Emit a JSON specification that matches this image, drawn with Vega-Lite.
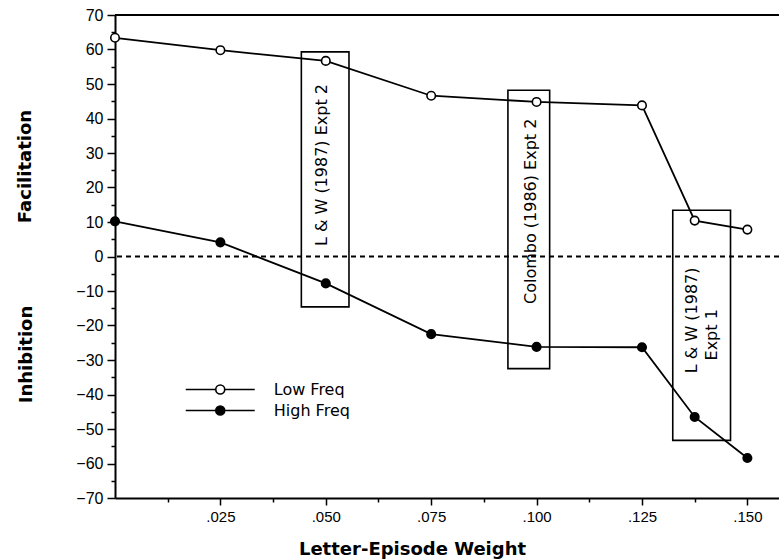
{
  "$schema": "https://vega.github.io/schema/vega-lite/v6.json",
  "width": 664,
  "height": 483,
  "autosize": {"type": "none"},
  "padding": {"left": 115, "top": 15, "right": 0, "bottom": 62},
  "background": "white",
  "config": {"view": {"stroke": null}, "font": "Liberation Sans"},
  "datasets": {
    "series": [
      {"w": 0.0, "value": 63.4, "freq": "Low Freq"},
      {"w": 0.025, "value": 59.8, "freq": "Low Freq"},
      {"w": 0.05, "value": 56.7, "freq": "Low Freq"},
      {"w": 0.075, "value": 46.6, "freq": "Low Freq"},
      {"w": 0.1, "value": 44.8, "freq": "Low Freq"},
      {"w": 0.125, "value": 43.8, "freq": "Low Freq"},
      {"w": 0.1375, "value": 10.4, "freq": "Low Freq"},
      {"w": 0.15, "value": 7.8, "freq": "Low Freq"},
      {"w": 0.0, "value": 10.2, "freq": "High Freq"},
      {"w": 0.025, "value": 4.1, "freq": "High Freq"},
      {"w": 0.05, "value": -7.8, "freq": "High Freq"},
      {"w": 0.075, "value": -22.5, "freq": "High Freq"},
      {"w": 0.1, "value": -26.2, "freq": "High Freq"},
      {"w": 0.125, "value": -26.3, "freq": "High Freq"},
      {"w": 0.1375, "value": -46.5, "freq": "High Freq"},
      {"w": 0.15, "value": -58.4, "freq": "High Freq"}
    ],
    "boxes": [
      {"x1": 0.0442, "x2": 0.0555, "top": 59.3, "bottom": -14.6},
      {"x1": 0.0932, "x2": 0.1031, "top": 48.2, "bottom": -32.5},
      {"x1": 0.1323, "x2": 0.146, "top": 13.4, "bottom": -53.3}
    ],
    "labels": [
      {"w": 0.0492, "value": 26.5, "label": "L & W (1987) Expt 2"},
      {"w": 0.0987, "value": 13.1, "label": "Colombo (1986) Expt 2"},
      {"w": 0.1369, "value": -18.5, "label": "L & W (1987)"},
      {"w": 0.1417, "value": -22.7, "label": "Expt 1"}
    ]
  },
  "resolve": {"axis": {"x": "independent", "y": "independent"}},
  "layer": [
    {
      "data": {"name": "boxes"},
      "mark": {"type": "rect", "filled": false, "stroke": "black", "strokeWidth": 1.6},
      "encoding": {
        "x": {"field": "x1", "type": "quantitative", "axis": null},
        "x2": {"field": "x2"},
        "y": {"field": "top", "type": "quantitative", "axis": null},
        "y2": {"field": "bottom"}
      }
    },
    {
      "data": {"values": [{}]},
      "mark": {"type": "rule", "color": "black", "strokeWidth": 2},
      "encoding": {"y": {"datum": 70, "type": "quantitative", "axis": null}}
    },
    {
      "data": {"values": [{}]},
      "mark": {"type": "rule", "color": "black", "strokeWidth": 2, "strokeDash": [5, 4]},
      "encoding": {"y": {"datum": 0, "type": "quantitative", "axis": null}}
    },
    {
      "data": {"name": "series"},
      "mark": {"type": "line", "color": "black", "strokeWidth": 1.8},
      "encoding": {
        "x": {
          "field": "w",
          "type": "quantitative",
          "scale": {"domain": [0, 0.1575], "nice": false, "zero": false},
          "axis": {
            "orient": "bottom",
            "values": [0.0125, 0.025, 0.0375, 0.05, 0.0625, 0.075, 0.0875, 0.1, 0.1125, 0.125, 0.1375, 0.15],
            "labelExpr": "round(datum.value*1000) % 25 === 0 ? substring(format(datum.value, '.3f'), 1) : ''",
            "tickSize": {"condition": {"test": "round(datum.value*1000) % 25 === 0", "value": 7}, "value": 4},
            "tickColor": "black",
            "tickWidth": 1.5,
            "domainColor": "black",
            "domainWidth": 2,
            "grid": false,
            "labelFont": "Liberation Sans",
            "labelFontSize": 15,
            "labelColor": "black",
            "labelPadding": 4,
            "title": "Letter-Episode Weight",
            "titleFont": "DejaVu Sans",
            "titleFontWeight": "bold",
            "titleFontSize": 18,
            "titleColor": "black",
            "titleX": 297,
            "titleY": 56,
            "titleAlign": "center",
            "titleBaseline": "alphabetic"
          }
        },
        "y": {
          "field": "value",
          "type": "quantitative",
          "scale": {"domain": [-70, 70], "nice": false, "zero": false},
          "axis": {
            "orient": "left",
            "values": [-70, -65, -60, -55, -50, -45, -40, -35, -30, -25, -20, -15, -10, -5, 0, 5, 10, 15, 20, 25, 30, 35, 40, 45, 50, 55, 60, 65, 70],
            "labelExpr": "datum.value % 10 === 0 ? datum.label : ''",
            "tickSize": {"condition": {"test": "datum.value % 10 === 0", "value": 8}, "value": 4},
            "tickColor": "black",
            "tickWidth": 1.5,
            "domainColor": "black",
            "domainWidth": 2,
            "grid": false,
            "labelFont": "Liberation Sans",
            "labelFontSize": 16,
            "labelColor": "black",
            "labelPadding": 4,
            "labelBaseline": "middle",
            "title": "Facilitation",
            "titleFont": "DejaVu Sans",
            "titleFontWeight": "bold",
            "titleFontSize": 18,
            "titleColor": "black",
            "titleAngle": 270,
            "titleX": -85,
            "titleY": 151,
            "titleAlign": "center",
            "titleBaseline": "alphabetic"
          }
        },
        "detail": {"field": "freq"}
      }
    },
    {
      "data": {"name": "series"},
      "mark": {"type": "point", "shape": "circle", "filled": true, "size": 72, "stroke": "black", "strokeWidth": 1.6, "opacity": 1},
      "encoding": {
        "x": {"field": "w", "type": "quantitative", "axis": null},
        "y": {
          "field": "value",
          "type": "quantitative",
          "axis": {
            "orient": "left",
            "labels": false,
            "ticks": false,
            "domain": false,
            "grid": false,
            "title": "Inhibition",
            "titleFont": "DejaVu Sans",
            "titleFontWeight": "bold",
            "titleFontSize": 18,
            "titleColor": "black",
            "titleAngle": 270,
            "titleX": -84,
            "titleY": 339,
            "titleAlign": "center",
            "titleBaseline": "alphabetic"
          }
        },
        "fill": {
          "field": "freq",
          "type": "nominal",
          "scale": {"domain": ["Low Freq", "High Freq"], "range": ["white", "black"]},
          "legend": {
            "orient": "none",
            "legendX": 92.75,
            "legendY": 362,
            "title": null,
            "padding": 0,
            "symbolType": "M-3,0H-0.39M0.39,0H3M0.39,0A0.39,0.39,0,1,1,-0.39,0A0.39,0.39,0,1,1,0.39,0Z",
            "symbolSize": 529,
            "symbolStrokeColor": "black",
            "symbolStrokeWidth": 1.6,
            "symbolOffset": 0,
            "labelOffset": 41,
            "labelFont": "DejaVu Sans",
            "labelFontSize": 16,
            "labelColor": "black",
            "rowPadding": 0
          }
        }
      }
    },
    {
      "data": {"name": "labels"},
      "mark": {"type": "text", "angle": 270, "font": "DejaVu Sans", "fontSize": 16, "color": "black", "align": "center", "baseline": "middle"},
      "encoding": {
        "x": {"field": "w", "type": "quantitative", "axis": null},
        "y": {"field": "value", "type": "quantitative", "axis": null},
        "text": {"field": "label"}
      }
    }
  ]
}
